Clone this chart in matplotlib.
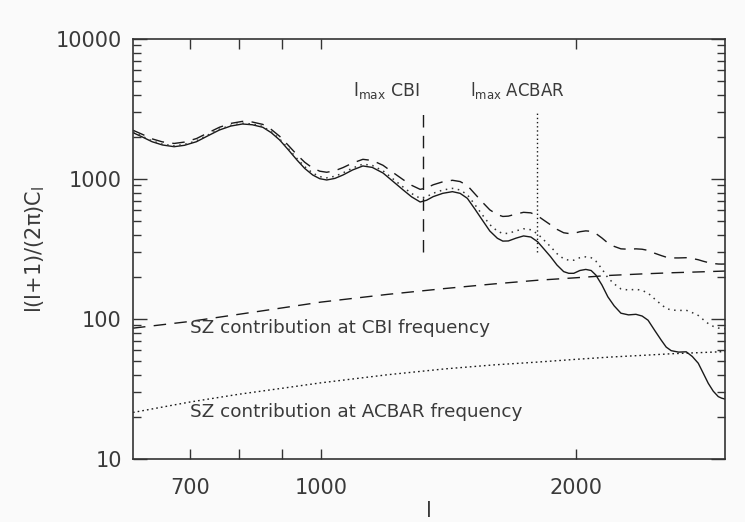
import matplotlib
matplotlib.use("Agg")
import matplotlib.pyplot as plt
from matplotlib.ticker import FixedLocator, FixedFormatter, NullFormatter

# multipole samples
ell = [600, 615, 632, 650, 671, 690, 713, 735, 759, 783, 808, 830, 854, 874, 894,
       915, 937, 957, 978, 997, 1016, 1039, 1062, 1090, 1121, 1150, 1184, 1217,
       1251, 1280, 1310, 1333, 1357, 1393, 1430, 1460, 1489, 1520, 1551, 1583,
       1616, 1640, 1665, 1700, 1735, 1770, 1803, 1835, 1867, 1900, 1935, 1962,
       1989, 2022, 2055, 2085, 2112, 2147, 2182, 2220, 2261, 2308, 2355, 2395,
       2434, 2478, 2522, 2557, 2592, 2645, 2700, 2745, 2790, 2828, 2867, 2906,
       2946, 2973, 3000]

# primary CMB spectrum (solid)
cmb = [2143, 2000, 1846, 1750, 1701, 1740, 1846, 2030, 2239, 2390, 2471, 2440,
       2340, 2140, 1899, 1620, 1367, 1190, 1068, 1005, 984, 1010, 1068, 1160,
       1239, 1210, 1104, 960, 834, 745, 685, 705, 748, 790, 812, 790, 728, 610,
       509, 425, 377, 360, 361, 378, 392, 385, 356, 315, 279, 243, 218, 212, 212,
       222, 226, 222, 206, 175, 144, 124, 110, 107, 108, 105, 98, 83, 70.8, 63,
       59.4, 58, 58.3, 54, 48.3, 41, 34.7, 30.5, 27.9, 27.2, 26.8]

# CMB + SZ at CBI frequency (dashed)
cmb_cbi = [2229, 2088, 1935, 1841, 1794, 1835, 1944, 2130, 2342, 2496, 2580, 2552,
           2454, 2257, 2018, 1742, 1491, 1317, 1197, 1137, 1117, 1146, 1206, 1300,
           1382, 1356, 1253, 1111, 988, 901, 843, 864, 909, 955, 979, 959, 899, 783,
           684, 602, 556, 540, 543, 562, 578, 573, 545, 506, 471, 437, 413, 408, 409,
           420, 426, 423, 408, 379, 349, 330, 317, 315, 317, 315, 309, 295, 284,
           276.5, 273, 273, 274, 270.5, 265, 258.5, 253, 249, 247, 246.7, 247]

# CMB + SZ at ACBAR frequency (dotted)
cmb_acbar = [2165, 2022, 1869, 1773, 1725, 1765, 1872, 2057, 2267, 2418, 2500, 2470,
             2371, 2171, 1931, 1653, 1400, 1224, 1102, 1040, 1019, 1046, 1105, 1197,
             1277, 1249, 1144, 1000, 875, 787, 727, 748, 791, 834, 857, 835, 773, 656,
             555, 472, 424, 408, 409, 426, 441, 434, 405, 365, 329, 293, 269, 263, 263,
             274, 278, 274, 259, 228, 197, 178, 164, 161, 163, 160, 153, 139, 127,
             119, 116, 115, 115.5, 111, 106, 99, 92.7, 88.6, 86.2, 85.6, 85.3]

# SZ contributions
sz_ell = [600, 700, 800, 900, 1000, 1200, 1400, 1600, 1800, 2000, 2200, 2400, 2600, 2800, 3000]
sz_cbi = [86, 96, 108, 120, 132, 150, 165, 178, 189, 197, 205, 210, 214, 217, 220]
sz_acbar = [21.5, 25.5, 29, 32, 35, 40, 44, 47, 49.2, 51.5, 53.5, 55, 56.5, 57.5, 58.5]

lmax_cbi = 1320
lmax_acbar = 1800
vline_range = [300, 3000]

xticks = [700, 800, 900, 1000, 2000]
xticklabels = ["700", "", "", "1000", "2000"]
yticks = [10, 100, 1000, 10000]
yticklabels = ["10", "100", "1000", "10000"]

ink = "#1a1a1a"
txt = "#3a3a3a"

fig = plt.figure(figsize=(7.45, 5.22), dpi=100, facecolor="#fafafa")
ax = fig.add_axes([0.1785, 0.1207, 0.7946, 0.8046])
ax.set_facecolor("#fafafa")
ax.set_xscale("log")
ax.set_yscale("log")
ax.set_xlim(600, 3000)
ax.set_ylim(10, 10000)

ax.plot(ell, cmb, color=ink, lw=1.0)
ax.plot(ell, cmb_cbi, color=ink, lw=1.0, dashes=(9, 6))
ax.plot(ell, cmb_acbar, color="#333333", lw=1.1, dashes=(1, 3))
ax.plot(sz_ell, sz_cbi, color=ink, lw=1.0, dashes=(9, 6))
ax.plot(sz_ell, sz_acbar, color=ink, lw=1.0, dashes=(1.2, 2.2))

ax.plot([lmax_cbi, lmax_cbi], vline_range, color=ink, lw=1.0, dashes=(9, 6))
ax.plot([lmax_acbar, lmax_acbar], vline_range, color=ink, lw=1.0, dashes=(1, 2))

ax.text(1091, 3917, r"l$_\mathregular{max}$ CBI", fontsize=12.5, color=txt,
        ha="left", va="baseline")
ax.text(1502, 3917, r"l$_\mathregular{max}$ ACBAR", fontsize=12, color=txt,
        ha="left", va="baseline")
ax.text(700, 86, "SZ contribution at CBI frequency", fontsize=13.2, color=txt,
        ha="left", va="center")
ax.text(700, 21.7, "SZ contribution at ACBAR frequency", fontsize=13.2, color=txt,
        ha="left", va="center")

ax.xaxis.set_major_locator(FixedLocator(xticks))
ax.xaxis.set_major_formatter(FixedFormatter(xticklabels))
ax.xaxis.set_minor_locator(FixedLocator([]))
ax.xaxis.set_minor_formatter(NullFormatter())
ax.yaxis.set_major_locator(FixedLocator(yticks))
ax.yaxis.set_major_formatter(FixedFormatter(yticklabels))
yminor = [m * d for d in (10, 100, 1000) for m in range(2, 10)]
ax.yaxis.set_minor_locator(FixedLocator(yminor))
ax.yaxis.set_minor_formatter(NullFormatter())

ax.tick_params(axis="both", which="both", direction="in", top=True, right=True,
               color="#333333", width=1.0)
ax.tick_params(axis="y", which="major", length=10, pad=8, labelsize=15, labelcolor=txt)
ax.tick_params(axis="y", which="minor", length=6)
ax.tick_params(axis="x", which="major", length=7, pad=14, labelsize=15, labelcolor=txt)

for s in ax.spines.values():
    s.set_color("#333333")
    s.set_linewidth(1.2)

ax.set_xlabel("l", fontsize=15, color=txt, labelpad=2)
ax.set_ylabel("l(l+1)/(2π)C$_\\mathregular{l}$", fontsize=15, color=txt, labelpad=6)

fig.savefig("out.png", dpi=100, facecolor=fig.get_facecolor())
